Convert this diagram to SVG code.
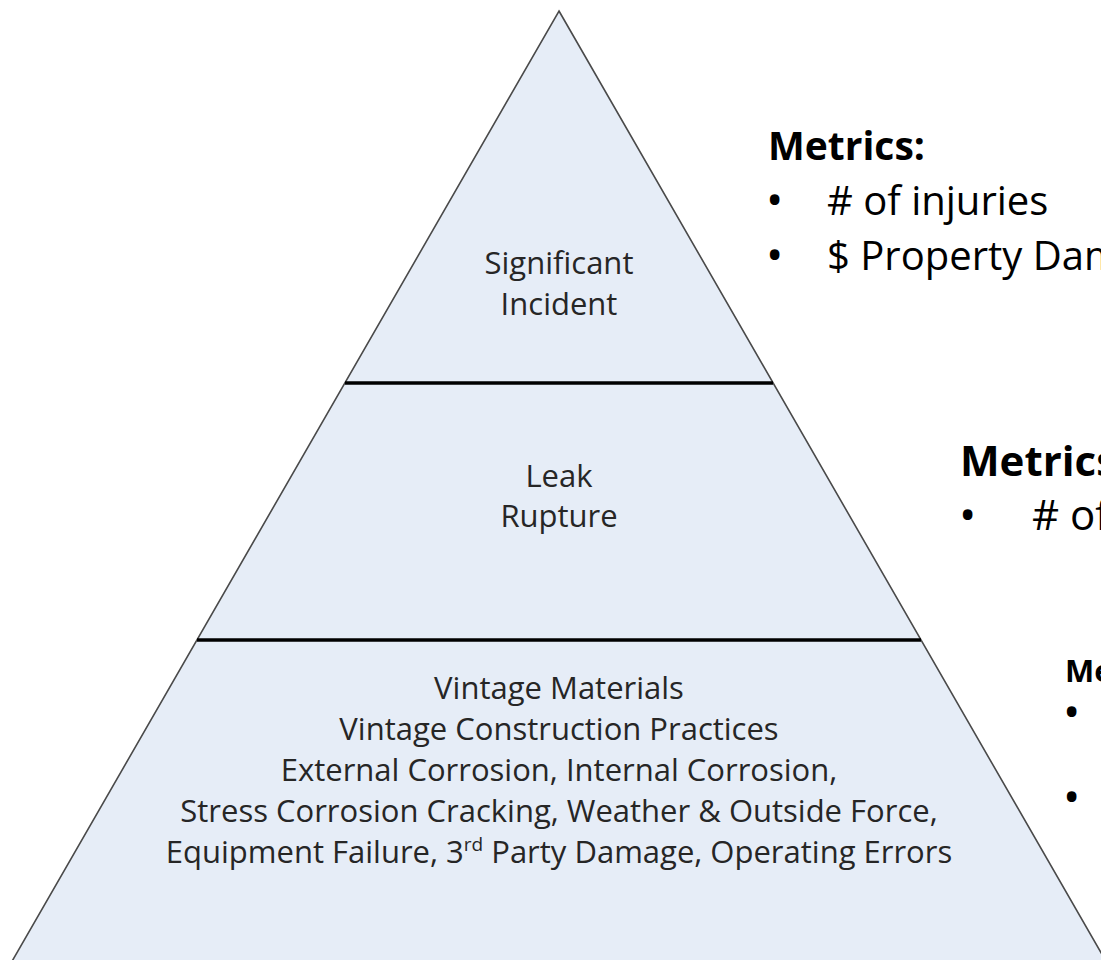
<svg xmlns="http://www.w3.org/2000/svg" width="1101" height="960" viewBox="0 0 1101 960">
<style>
.lbl{font-family:"Open Sans","Liberation Sans",sans-serif;font-size:31px;fill:#262626;text-anchor:middle}
.mh{font-family:"Open Sans","Liberation Sans",sans-serif;font-weight:bold;fill:#000}
.mt{font-family:"Open Sans","Liberation Sans",sans-serif;fill:#000}
.bul{font-family:"Open Sans","Liberation Sans",sans-serif;font-size:46px;fill:#000}
.div{stroke:#000;stroke-width:3.5}
</style>
<rect width="1101" height="960" fill="#fff"/>
<g id="pyramid">
<polygon points="559,11 1111,970 7,970" fill="#e6edf7" stroke="#4a4a4a" stroke-width="1.6" stroke-linejoin="miter"/>
</g>
<g id="connectors">
<line class="div" x1="345" y1="383" x2="773" y2="383"/>
<line class="div" x1="197" y1="640" x2="921" y2="640"/>
</g>
<g id="tier-top">
<text class="lbl" x="559" y="274">Significant</text>
<text class="lbl" x="559" y="315">Incident</text>
</g>
<g id="tier-middle">
<text class="lbl" x="559" y="487">Leak</text>
<text class="lbl" x="559" y="527">Rupture</text>
</g>
<g id="tier-bottom">
<text class="lbl" x="559" y="699">Vintage Materials</text>
<text class="lbl" x="559" y="740">Vintage Construction Practices</text>
<text class="lbl" x="559" y="781">External Corrosion, Internal Corrosion,</text>
<text class="lbl" x="559" y="822">Stress Corrosion Cracking, Weather &amp; Outside Force,</text>
<text class="lbl" x="559" y="863">Equipment Failure, 3<tspan font-size="19" dy="-12">rd</tspan><tspan dy="12"> Party Damage, Operating Errors</tspan></text>
</g>
<g id="metrics-top">
<text class="mh" x="768" y="160" font-size="39">Metrics:</text>
<text class="bul" x="766" y="216">•</text>
<text class="mt" x="827" y="215" font-size="40"># of injuries</text>
<text class="bul" x="766" y="271">•</text>
<text class="mt" x="827" y="270" font-size="40">$ Property Damage</text>
</g>
<g id="metrics-middle">
<text class="mh" x="960" y="476" font-size="42">Metrics:</text>
<text class="bul" x="959" y="531">•</text>
<text class="mt" x="1032" y="530" font-size="42"># of</text>
</g>
<g id="metrics-bottom">
<text class="mh" x="1065" y="682" font-size="31">Metrics:</text>
<text class="bul" x="1063" y="728">•</text>
<text class="bul" x="1063" y="813">•</text>
</g>
</svg>
